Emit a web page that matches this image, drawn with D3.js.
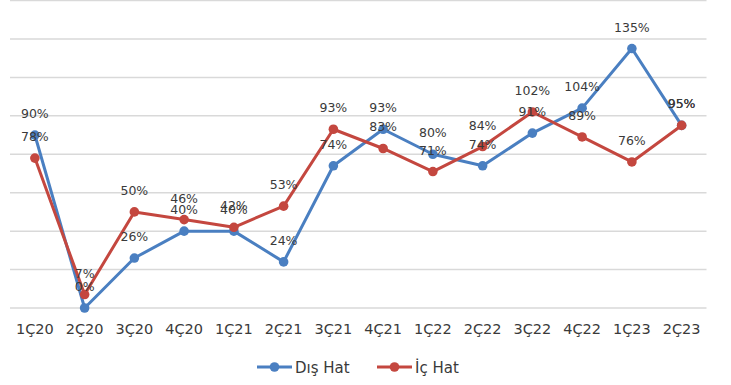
<!DOCTYPE html>
<html>
<head>
<meta charset="utf-8">
<script src="https://cdn.jsdelivr.net/npm/d3@7"></script>
<style>
  html, body { margin: 0; padding: 0; background: #ffffff; }
  svg { display: block; }
  text { font-family: "DejaVu Sans", "Noto Sans", sans-serif; fill: #3a3a3a; }
</style>
</head>
<body>
<svg id="chart" width="731" height="385"></svg>
<script>
// Quarterly load factors (%) for international and domestic lines
const categories = ["1Ç20", "2Ç20", "3Ç20", "4Ç20", "1Ç21", "2Ç21", "3Ç21", "4Ç21",
                    "1Ç22", "2Ç22", "3Ç22", "4Ç22", "1Ç23", "2Ç23"];
const disHat = [90, 0, 26, 40, 40, 24, 74, 93, 80, 74, 91, 104, 135, 95];
const icHat  = [78, 7, 50, 46, 42, 53, 93, 83, 71, 84, 102, 89, 76, 95];
const yTicks = [0, 20, 40, 60, 80, 100, 120, 140, 160];
const seriesNames = ["Dış Hat", "İç Hat"];

const colors = ["#4a7fc1", "#c4473f"];
const series = [
  { name: seriesNames[0], values: disHat, color: colors[0] },
  { name: seriesNames[1], values: icHat,  color: colors[1] }
];

const svg = d3.select("#chart");

const x = d3.scaleBand().domain(categories).range([10, 706.5]).padding(0);
const cx = d => x(d) + x.bandwidth() / 2;
const y = d3.scaleLinear().domain([0, 160]).range([308, 0.5]);

// horizontal gridlines
svg.append("g")
  .selectAll("line")
  .data(yTicks)
  .join("line")
  .attr("x1", 10).attr("x2", 706.5)
  .attr("y1", d => y(d)).attr("y2", d => y(d))
  .attr("stroke", "#d9d9d9")
  .attr("stroke-width", 1.5);

// category axis labels
const xAxis = svg.append("g")
  .attr("transform", "translate(0,308)")
  .call(d3.axisBottom(x).tickSize(0).tickPadding(16));
xAxis.select(".domain").remove();
xAxis.selectAll("text")
  .attr("font-size", "14.5px")
  .attr("font-family", "DejaVu Sans, sans-serif")
  .attr("fill", "#3a3a3a");

const line = d3.line()
  .x((d, i) => cx(categories[i]))
  .y(d => y(d));

const seriesG = svg.append("g")
  .selectAll("g")
  .data(series)
  .join("g");

seriesG.append("path")
  .attr("d", s => line(s.values))
  .attr("fill", "none")
  .attr("stroke", s => s.color)
  .attr("stroke-width", 3)
  .attr("stroke-linejoin", "round");

seriesG.selectAll("circle")
  .data(s => s.values.map((v, i) => ({ v, i, color: s.color })))
  .join("circle")
  .attr("cx", d => cx(categories[d.i]))
  .attr("cy", d => y(d.v))
  .attr("r", 4.8)
  .attr("fill", d => d.color);

// value labels above each point
const labelsG = svg.append("g");
series.forEach(s => {
  labelsG.append("g")
    .selectAll("text")
    .data(s.values.map((v, i) => ({ v, i })))
    .join("text")
    .attr("x", d => cx(categories[d.i]))
    .attr("y", d => y(d.v) - 17)
    .attr("text-anchor", "middle")
    .attr("font-size", "12.5px")
    .attr("fill", "#3a3a3a")
    .text(d => d.v + "%");
});

// legend
const legendItems = [
  { name: seriesNames[0], color: colors[0], x0: 257 },
  { name: seriesNames[1], color: colors[1], x0: 377 }
];
const legend = svg.append("g");
legendItems.forEach(item => {
  const g = legend.append("g").attr("transform", `translate(${item.x0},367)`);
  g.append("line")
    .attr("x1", 0).attr("x2", 35).attr("y1", 0).attr("y2", 0)
    .attr("stroke", item.color).attr("stroke-width", 3);
  g.append("circle").attr("cx", 17.5).attr("cy", 0).attr("r", 4.8).attr("fill", item.color);
  g.append("text")
    .attr("x", 38).attr("y", 5.5)
    .attr("font-size", "15px")
    .text(item.name);
});
</script>
</body>
</html>
